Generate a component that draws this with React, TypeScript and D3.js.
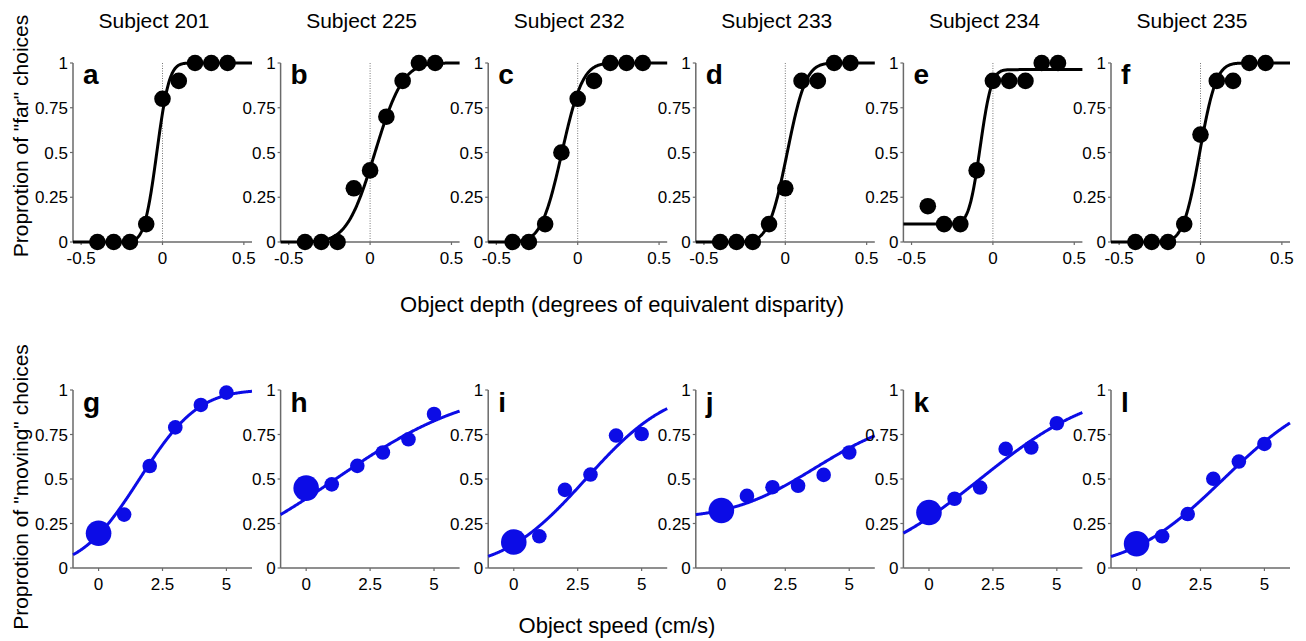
import React from "react";
import * as d3 from "d3";

const subjects = ["Subject 201", "Subject 225", "Subject 232", "Subject 233", "Subject 234", "Subject 235"];
const depthLetters = ["a", "b", "c", "d", "e", "f"];
const speedLetters = ["g", "h", "i", "j", "k", "l"];

const depthLevels = [-0.4, -0.3, -0.2, -0.1, 0, 0.1, 0.2, 0.3, 0.4];
const farChoices = [
  [0, 0, 0, 0.1, 0.8, 0.9, 1, 1, 1],
  [0, 0, 0, 0.3, 0.4, 0.7, 0.9, 1, 1],
  [0, 0, 0.1, 0.5, 0.8, 0.9, 1, 1, 1],
  [0, 0, 0, 0.1, 0.3, 0.9, 0.9, 1, 1],
  [0.2, 0.1, 0.1, 0.4, 0.9, 0.9, 0.9, 1, 1],
  [0, 0, 0, 0.1, 0.6, 0.9, 0.9, 1, 1],
];
// fitted psychometric functions: [mu, sigma, guess rate, lapse rate]
const depthFits = [
  [-0.035, 0.06, 0, 0],
  [0.03, 0.135, 0, 0],
  [-0.097, 0.1, 0, 0],
  [0.012, 0.09, 0, 0],
  [-0.078, 0.055, 0.1, 0.037],
  [-0.005, 0.08, 0, 0],
];

const speedLevels = [0, 1, 2, 3, 4, 5];
const movingChoices = [
  [0.195, 0.3, 0.573, 0.79, 0.916, 0.985],
  [0.449, 0.47, 0.574, 0.649, 0.723, 0.865],
  [0.146, 0.178, 0.439, 0.525, 0.744, 0.753],
  [0.323, 0.405, 0.454, 0.462, 0.523, 0.649],
  [0.312, 0.389, 0.452, 0.669, 0.677, 0.813],
  [0.136, 0.178, 0.303, 0.501, 0.598, 0.697],
];
const speedFits = [
  [1.6, 1.8, 0, 0],
  [1.15, 4.1, 0, 0],
  [2.82, 2.53, 0, 0],
  [3.7, 2.6, 0.28, 0.15],
  [2.0, 3.5, 0, 0],
  [3.4, 2.9, 0, 0],
];

const depthTicks = [-0.5, 0, 0.5];
const speedTicks = [0, 2.5, 5];
const probTicks = [0, 0.25, 0.5, 0.75, 1];

const FONT = "'Liberation Sans', Arial, Helvetica, sans-serif";
const AXIS = "#6a6a6a";
const BLUE = "#0c0ce6";

function erf(x: number) {
  const s = x < 0 ? -1 : 1;
  const a = Math.abs(x);
  const t = 1 / (1 + 0.3275911 * a);
  const y = 1 - (((((1.061405429 * t - 1.453152027) * t) + 1.421413741) * t - 0.284496736) * t + 0.254829592) * t * Math.exp(-a * a);
  return s * y;
}
function psych(x: number, p: number[]) {
  const [mu, sd, g, l] = p;
  const phi = 0.5 * (1 + erf((x - mu) / (sd * Math.SQRT2)));
  return g + (1 - g - l) * phi;
}

const PANEL_X0 = 73;
const PANEL_STEP = 207.6;
const PANEL_W = 179;

type PanelProps = {
  idx: number;
  top: number;
  bottom: number;
  xDomain: [number, number];
  xTicks: number[];
  xs: number[];
  ys: number[];
  fit: number[];
  letter: string;
  color: string;
  depth: boolean;
};

function Panel(props: PanelProps) {
  const { idx, top, bottom, xDomain, xTicks, xs, ys, fit, letter, color, depth } = props;
  const x0 = PANEL_X0 + idx * PANEL_STEP;
  const x = d3.scaleLinear().domain(xDomain).range([x0, x0 + PANEL_W]);
  const y = d3.scaleLinear().domain([0, 1]).range([bottom, top]);
  const samples = d3.range(0, 401).map((i) => xDomain[0] + ((xDomain[1] - xDomain[0]) * i) / 400);
  const line = d3
    .line<number>()
    .x((d) => x(d))
    .y((d) => y(psych(d, fit)))
    .curve(d3.curveLinear);
  return (
    <g>
      {/* y axis */}
      <line x1={x0} x2={x0} y1={y(1)} y2={y(0)} stroke={AXIS} strokeWidth={1.5} />
      {probTicks.map((t) => (
        <g key={"y" + t}>
          <line x1={x0 - 3} x2={x0} y1={y(t)} y2={y(t)} stroke={AXIS} strokeWidth={1.2} />
          <text x={x0 - 5} y={y(t)} dy="0.36em" textAnchor="end" fontSize={17} fontFamily={FONT} fill="#000">
            {String(t)}
          </text>
        </g>
      ))}
      {/* x axis */}
      <line x1={x0} x2={x0 + PANEL_W} y1={y(0)} y2={y(0)} stroke={AXIS} strokeWidth={1.5} />
      {xTicks.map((t) => (
        <g key={"x" + t}>
          <line x1={x(t)} x2={x(t)} y1={y(0)} y2={y(0) + 3} stroke={AXIS} strokeWidth={1.2} />
          <text x={x(t)} y={y(0) + 22} textAnchor="middle" fontSize={17} fontFamily={FONT} fill="#000">
            {String(t)}
          </text>
        </g>
      ))}
      {depth && (
        <line x1={x(0)} x2={x(0)} y1={y(1)} y2={y(0)} stroke="#777" strokeWidth={1} strokeDasharray="1,1.5" />
      )}
      <path d={line(samples) || ""} fill="none" stroke={color} strokeWidth={3} />
      {xs.map((xv, i) => (
        <circle
          key={"p" + i}
          cx={x(xv)}
          cy={y(ys[i])}
          r={depth ? 8.3 : i === 0 ? 12.8 : 7.3}
          fill={color}
        />
      ))}
      <text x={x0 + 10} y={top + (depth ? 21 : 22)} fontSize={28} fontWeight="bold" fontFamily={FONT} fill="#000">
        {letter}
      </text>
    </g>
  );
}

export default function App() {
  return (
    <svg
      width={1306}
      height={641}
      viewBox="0 0 1306 641"
      style={{ position: "absolute", left: 0, top: 0, background: "#fff" }}
    >
      <rect x={0} y={0} width={1306} height={641} fill="#fff" />
      {subjects.map((s, i) => (
        <text
          key={s}
          x={PANEL_X0 + i * PANEL_STEP + 81}
          y={28}
          textAnchor="middle"
          fontSize={21}
          fontFamily={FONT}
          fill="#000"
        >
          {s}
        </text>
      ))}
      {subjects.map((s, i) => (
        <Panel
          key={"top" + i}
          idx={i}
          top={63}
          bottom={242}
          xDomain={[-0.55, 0.55]}
          xTicks={depthTicks}
          xs={depthLevels}
          ys={farChoices[i]}
          fit={depthFits[i]}
          letter={depthLetters[i]}
          color="#000"
          depth={true}
        />
      ))}
      {subjects.map((s, i) => (
        <Panel
          key={"bot" + i}
          idx={i}
          top={390}
          bottom={568}
          xDomain={[-1, 6]}
          xTicks={speedTicks}
          xs={speedLevels}
          ys={movingChoices[i]}
          fit={speedFits[i]}
          letter={speedLetters[i]}
          color={BLUE}
          depth={false}
        />
      ))}
      <text
        transform="translate(28,136) rotate(-90)"
        textAnchor="middle"
        fontSize={21}
        fontFamily={FONT}
        fill="#000"
      >
        Proprotion of "far" choices
      </text>
      <text
        transform="translate(28,487) rotate(-90)"
        textAnchor="middle"
        fontSize={21}
        fontFamily={FONT}
        fill="#000"
      >
        Proprotion of "moving" choices
      </text>
      <text x={622} y={312} textAnchor="middle" fontSize={22} fontFamily={FONT} fill="#000">
        Object depth (degrees of equivalent disparity)
      </text>
      <text x={617} y={633} textAnchor="middle" fontSize={22} fontFamily={FONT} fill="#000">
        Object speed (cm/s)
      </text>
    </svg>
  );
}
